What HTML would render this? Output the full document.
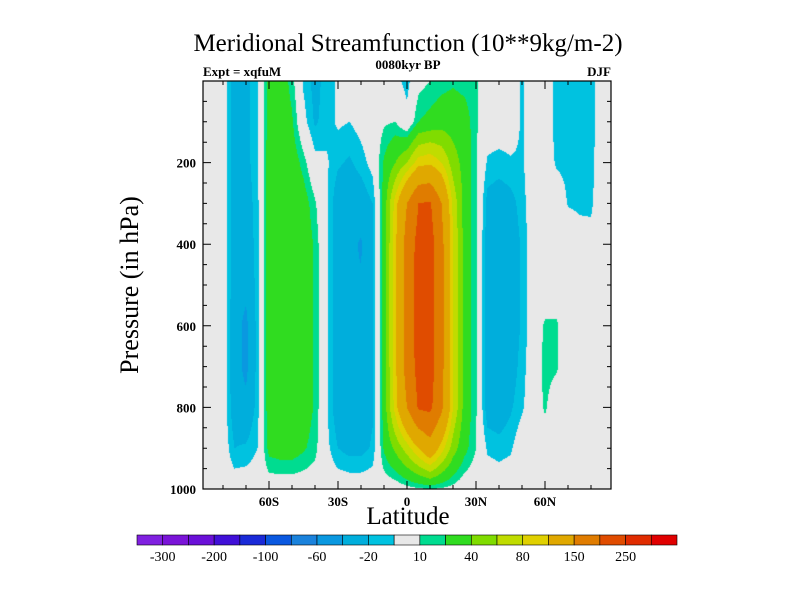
<!DOCTYPE html>
<html><head><meta charset="utf-8"><style>
body{margin:0;background:#fff;}
#wrap{position:relative;width:800px;height:600px;overflow:hidden;font-family:"Liberation Serif",serif;}
.t{position:absolute;white-space:nowrap;color:#000;}
</style></head><body>
<div id="wrap">
<div class="t" style="left:0;width:816px;text-align:center;top:30px;font-size:25px;">Meridional Streamfunction (10**9kg/m-2)</div>
<div class="t" style="left:203px;top:64px;font-size:13px;font-weight:bold;">Expt = xqfuM</div>
<div class="t" style="left:308px;width:200px;text-align:center;top:57px;font-size:13px;font-weight:bold;">0080kyr BP</div>
<div class="t" style="left:580px;width:31px;text-align:right;top:64px;font-size:13px;font-weight:bold;">DJF</div>
<div class="t" style="left:130px;top:285px;font-size:26px;transform:translate(-50%,-50%) rotate(-90deg);">Pressure (in hPa)</div>
<div class="t" style="left:308px;width:200px;text-align:center;top:503px;font-size:25px;">Latitude</div>
<canvas id="cv" width="408" height="408" style="position:absolute;left:203px;top:81px;"></canvas>
<svg id="sv" width="800" height="600" style="position:absolute;left:0;top:0;"></svg>
</div>
<script>
const lats=[-90,-85,-80,-75,-70,-65,-60,-55,-50,-45,-40,-35,-30,-25,-20,-15,-10,-5,0,5,10,15,20,25,30,35,40,45,50,55,60,65,70,75,80,85,90];
const pressures=[0,100,200,300,400,500,600,700,800,900,1000];
const psi=[
[0,0,0,0,0,0,0,0,0,0,0],
[0,0,0,0,0,0,0,0,0,0,0],
[0,0,0,0,0,0,0,0,0,0,0],
[-28,-28,-28,-28,-28,-30,-32,-32,-30,-20,0],
[-25,-25,-25,-28,-30,-35,-45,-45,-35,-18,0],
[-12,-12,-12,-14,-15,-15,-15,-15,-15,-10,0],
[25,28,30,30,30,30,30,30,30,25,0],
[30,30,32,32,32,32,32,32,32,28,0],
[15,22,30,32,32,32,32,32,32,28,0],
[-12,-5,15,28,30,30,30,30,30,22,0],
[-25,-22,-5,12,18,18,18,18,18,14,0],
[-15,-15,-8,-8,-8,-8,-8,-8,-8,-6,0],
[-8,-8,-18,-30,-30,-30,-30,-30,-30,-20,0],
[0,-10,-22,-32,-35,-38,-35,-32,-32,-25,0],
[0,-5,-15,-30,-42,-38,-32,-30,-30,-25,0],
[0,0,-5,-20,-22,-22,-22,-22,-22,-18,0],
[0,8,22,28,28,28,28,28,28,22,0],
[-5,10,40,90,95,95,95,95,90,45,0],
[-15,-5,60,150,170,170,170,170,150,70,5],
[5,20,90,200,215,220,220,215,205,100,8],
[10,25,95,205,220,220,220,220,210,130,10],
[15,30,80,150,165,165,165,165,160,90,8],
[18,30,50,75,80,80,80,80,80,50,5],
[15,28,32,32,32,32,32,32,32,25,0],
[12,12,12,12,12,12,12,12,12,10,0],
[0,0,-12,-25,-28,-30,-30,-30,-28,-12,0],
[0,0,-15,-28,-32,-32,-32,-32,-30,-15,0],
[0,0,-12,-25,-30,-30,-30,-28,-22,-12,0],
[-12,-12,-12,-15,-18,-18,-18,-15,-12,0,0],
[0,0,0,0,0,0,0,0,0,0,0],
[0,0,0,0,0,0,12,14,12,0,0],
[-15,-15,-12,0,0,0,12,12,0,0,0],
[-15,-15,-13,-11,0,0,0,0,0,0,0],
[-15,-15,-14,-12,-5,0,0,0,0,0,0],
[-15,-15,-14,-12,-6,0,0,0,0,0,0],
[0,0,0,0,0,0,0,0,0,0,0],
[0,0,0,0,0,0,0,0,0,0,0]];
const levels=[-300,-250,-200,-150,-100,-80,-60,-40,-20,-10,10,20,40,60,80,100,150,200,250,300];
const levelLabels=["-300","-200","-100","-60","-20","10","40","80","150","250"];
const colors=["#8020e0","#7a14d8","#6a10d8","#4010d8","#1a2ad8","#0a58e0","#1a82dc","#0a98e0","#00aedc","#00c2e0","#e8e8e8","#00dc90","#30dc20","#80dc00","#c0dc00","#e0d000","#e0a800","#e07c00","#e04c00","#e02c00","#e00000"];
const latTicks=[-60,-30,0,30,60];
const latTickLabels=["60S","30S","0","30N","60N"];
const pTicks=[200,400,600,800,1000];

const X0=203,X1=611,Y0=81,Y1=489;
const xOf=l=>407+2.3*l, latOf=x=>(x-407)/2.3;
const yOf=p=>Y0+0.408*p, pOf=y=>(y-Y0)/0.408;
function val(lat,p){
  let i=Math.max(0,Math.min(lats.length-2,Math.floor((lat-lats[0])/5)));
  let fx=(lat-lats[i])/5; fx=Math.max(0,Math.min(1,fx));
  let j=Math.max(0,Math.min(pressures.length-2,Math.floor(p/100)));
  let fy=(p-pressures[j])/100; fy=Math.max(0,Math.min(1,fy));
  const a=psi[i][j],b=psi[i+1][j],c=psi[i][j+1],d=psi[i+1][j+1];
  return a*(1-fx)*(1-fy)+b*fx*(1-fy)+c*(1-fx)*fy+d*fx*fy;
}
function rgb(h){return [parseInt(h.substr(1,2),16),parseInt(h.substr(3,2),16),parseInt(h.substr(5,2),16)];}
const rgbs=colors.map(rgb);
const cv=document.getElementById('cv'),ctx=cv.getContext('2d');
const img=ctx.createImageData(408,408);
for(let py=0;py<408;py++){const p=pOf(Y0+py+0.5);
  for(let px=0;px<408;px++){const v=val(latOf(X0+px+0.5),p);
    let k=0;while(k<levels.length&&v>=levels[k])k++;
    const c=rgbs[k],o=(py*408+px)*4;img.data[o]=c[0];img.data[o+1]=c[1];img.data[o+2]=c[2];img.data[o+3]=255;}}
ctx.putImageData(img,0,0);

const sv=document.getElementById('sv');const NS='http://www.w3.org/2000/svg';
function mk(t,a,txt){const e=document.createElementNS(NS,t);for(const k in a)e.setAttribute(k,a[k]);if(txt!==undefined)e.textContent=txt;sv.appendChild(e);return e;}
let e=mk('rect',{x:X0,y:Y0,width:X1-X0,height:Y1-Y0,fill:'none',stroke:'#000','stroke-width':1.2});


for(let l=-80;l<=80;l+=10){const x=xOf(l),maj=l%30===0?8:4;
  e=mk('path',{d:`M${x},${Y1}v${-maj}M${x},${Y0}v${maj}`,stroke:'#000','stroke-width':1});
  
  }
latTicks.forEach((l,i)=>{e=mk('text',{x:xOf(l),y:Y1+17,'text-anchor':'middle','font-size':13,'font-weight':'bold','font-family':'Liberation Serif,serif'},latTickLabels[i]);
  
  });
for(let p=50;p<1000;p+=50){const y=yOf(p),maj=p%200===0?8:4;
  e=mk('path',{d:`M${X0},${y}h${maj}M${X1},${y}h${-maj}`,stroke:'#000','stroke-width':1});
  
  }
pTicks.forEach(p=>{e=mk('text',{x:X0-7,y:yOf(p)+5,'text-anchor':'end','font-size':13,'font-weight':'bold','font-family':'Liberation Serif,serif'},String(p));
  
  });
const CB0=137,CB1=677,bw=(CB1-CB0)/colors.length;
colors.forEach((c,i)=>{e=mk('rect',{x:CB0+i*bw,y:535,width:bw,height:10,fill:c,stroke:'#000','stroke-width':0.6});
  
  });
levelLabels.forEach((t,i)=>{e=mk('text',{x:CB0+(2*i+1)*bw,y:561,'text-anchor':'middle','font-size':14,'font-family':'Liberation Serif,serif'},t);
  
  });
</script>
</body></html>
